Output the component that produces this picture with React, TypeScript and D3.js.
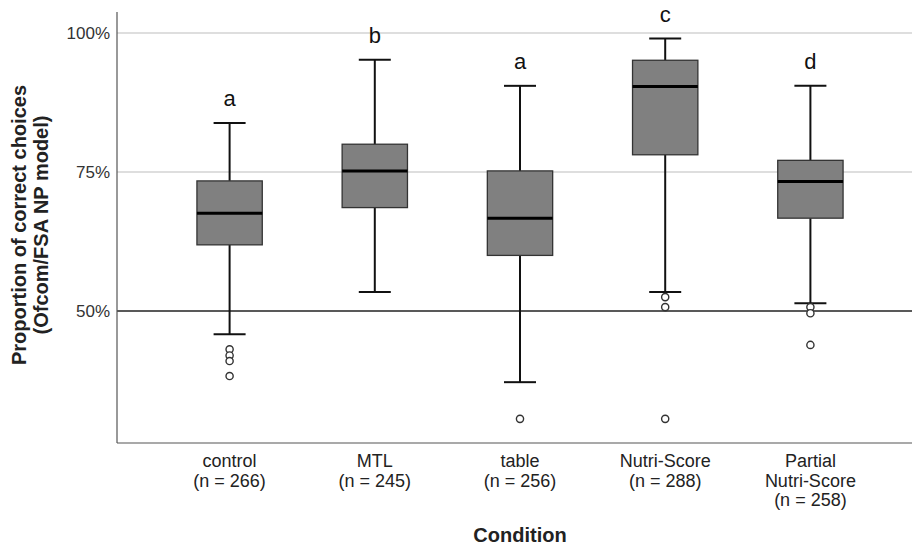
import React from "react";
import * as d3 from "d3";

const categories = ["control", "MTL", "table", "Nutri-Score", "Partial Nutri-Score"];
const labelLines = [
  ["control", "(n = 266)"],
  ["MTL", "(n = 245)"],
  ["table", "(n = 256)"],
  ["Nutri-Score", "(n = 288)"],
  ["Partial", "Nutri-Score", "(n = 258)"],
];
const whiskerLow = [45.8, 53.4, 37.2, 53.4, 51.4];
const q1 = [61.9, 68.6, 60.0, 78.1, 66.7];
const median = [67.6, 75.2, 66.7, 90.4, 73.3];
const q3 = [73.4, 80.0, 75.2, 95.1, 77.1];
const whiskerHigh = [83.8, 95.2, 90.5, 99.0, 90.5];
const outliers = [
  [43.1, 42.0, 41.0, 38.3],
  [],
  [30.6],
  [52.5, 50.7, 30.6],
  [50.7, 49.6, 43.9],
];
const letters = ["a", "b", "a", "c", "d"];
const yTicks = [50, 75, 100];

const W = 912;
const H = 545;
const FONT = "Arial, 'Liberation Sans', Helvetica, sans-serif";

export default function App() {
  const y = d3.scaleLinear().domain([26.26, 103.78]).range([443, 12]);
  const x = d3.scaleBand<string>().domain(categories).range([157, 883]).padding(0);
  const bw = x.bandwidth();
  const boxW = bw * 0.45;
  const capW = 32;
  const cx = (c: string) => (x(c) as number) + bw / 2;

  return (
    <svg
      width={W}
      height={H}
      style={{ position: "absolute", left: 0, top: 0, background: "#fff" }}
      fontFamily={FONT}
    >
      {/* gridlines */}
      {yTicks.map((t) => (
        <line
          key={"g" + t}
          x1={117}
          x2={W}
          y1={y(t)}
          y2={y(t)}
          stroke={t === 50 ? "#222" : "#bdbdbd"}
          strokeWidth={t === 50 ? 1.3 : 1.2}
        />
      ))}
      {/* axes */}
      <line x1={117} x2={117} y1={12} y2={443} stroke="#555" strokeWidth={1.2} />
      <line x1={117} x2={W} y1={443} y2={443} stroke="#555" strokeWidth={1.2} />
      {yTicks.map((t) => (
        <text
          key={"t" + t}
          x={110}
          y={y(t)}
          dy="0.36em"
          textAnchor="end"
          fontSize={17}
          fill="#333"
        >
          {t}%
        </text>
      ))}
      {/* boxes */}
      {categories.map((c, i) => {
        const xc = cx(c);
        return (
          <g key={c}>
            <line x1={xc} x2={xc} y1={y(whiskerHigh[i])} y2={y(q3[i])} stroke="#111" strokeWidth={2} />
            <line x1={xc} x2={xc} y1={y(q1[i])} y2={y(whiskerLow[i])} stroke="#111" strokeWidth={2} />
            <line x1={xc - capW / 2} x2={xc + capW / 2} y1={y(whiskerHigh[i])} y2={y(whiskerHigh[i])} stroke="#111" strokeWidth={2} />
            <line x1={xc - capW / 2} x2={xc + capW / 2} y1={y(whiskerLow[i])} y2={y(whiskerLow[i])} stroke="#111" strokeWidth={2} />
            <rect
              x={xc - boxW / 2}
              y={y(q3[i])}
              width={boxW}
              height={y(q1[i]) - y(q3[i])}
              fill="#808080"
              stroke="#333"
              strokeWidth={1.3}
            />
            <line x1={xc - boxW / 2} x2={xc + boxW / 2} y1={y(median[i])} y2={y(median[i])} stroke="#000" strokeWidth={3} />
            {outliers[i].map((o, j) => (
              <circle key={j} cx={xc} cy={y(o)} r={3.6} fill="#fff" stroke="#333" strokeWidth={1.4} />
            ))}
            <text x={xc} y={y(whiskerHigh[i]) - 17} textAnchor="middle" fontSize={22} fill="#111">
              {letters[i]}
            </text>
            {labelLines[i].map((l, k) => (
              <text key={k} x={xc} y={467 + k * 19.5} textAnchor="middle" fontSize={18} fill="#222">
                {l}
              </text>
            ))}
          </g>
        );
      })}
      {/* axis titles */}
      <text x={520} y={542} textAnchor="middle" fontSize={20} fontWeight="bold" fill="#222">
        Condition
      </text>
      <g transform="translate(0,225) rotate(-90)">
        <text x={0} y={26} textAnchor="middle" fontSize={20} fontWeight="bold" fill="#222">
          Proportion of correct choices
        </text>
        <text x={0} y={48} textAnchor="middle" fontSize={20} fontWeight="bold" fill="#222">
          (Ofcom/FSA NP model)
        </text>
      </g>
    </svg>
  );
}
